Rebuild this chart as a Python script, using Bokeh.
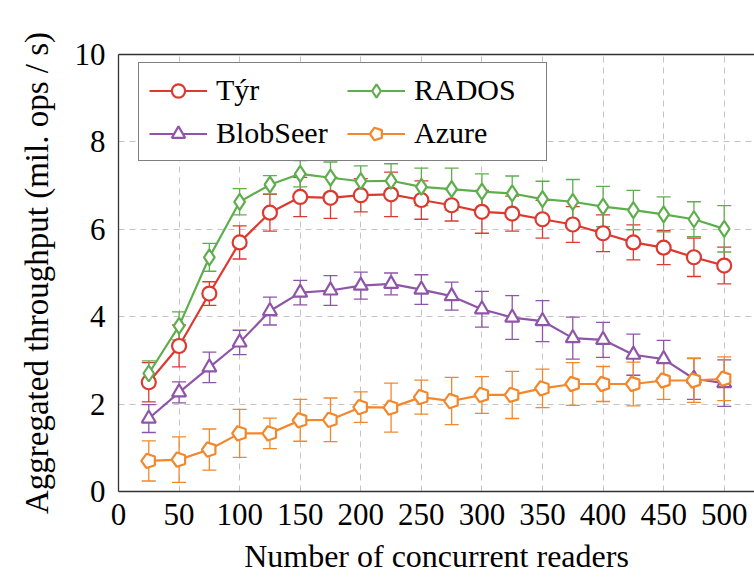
import numpy as np
from bokeh.plotting import figure
from bokeh.models import (ColumnDataSource, Whisker, TeeHead, Legend, LegendItem,
                          LinearAxis, Range1d, FixedTicker, Title)
from bokeh.embed import file_html
from bokeh.resources import INLINE

# ---- data ----
readers = [25, 50, 75, 100, 125, 150, 175, 200, 225, 250,
           275, 300, 325, 350, 375, 400, 425, 450, 475, 500]

tyr = [2.50, 3.33, 4.53, 5.70, 6.38, 6.74, 6.72, 6.78, 6.80, 6.67,
       6.55, 6.40, 6.36, 6.23, 6.11, 5.91, 5.70, 5.58, 5.36, 5.17]
tyr_err = [0.45, 0.48, 0.27, 0.38, 0.42, 0.45, 0.47, 0.38, 0.51, 0.44,
           0.36, 0.49, 0.40, 0.43, 0.41, 0.42, 0.40, 0.39, 0.44, 0.42]

rados = [2.70, 3.79, 5.36, 6.63, 7.02, 7.27, 7.18, 7.10, 7.11, 6.97,
         6.92, 6.86, 6.82, 6.69, 6.63, 6.52, 6.44, 6.34, 6.23, 6.01]
rados_err = [0.29, 0.32, 0.32, 0.30, 0.21, 0.30, 0.36, 0.35, 0.39, 0.43,
             0.48, 0.41, 0.40, 0.41, 0.51, 0.46, 0.45, 0.40, 0.40, 0.53]

blobseer = [1.67, 2.27, 2.84, 3.41, 4.13, 4.55, 4.60, 4.71, 4.75, 4.62,
            4.47, 4.17, 3.98, 3.90, 3.51, 3.47, 3.13, 3.03, 2.58, 2.48]
blobseer_err = [0.32, 0.24, 0.35, 0.28, 0.32, 0.28, 0.34, 0.31, 0.25, 0.34,
                0.32, 0.41, 0.50, 0.47, 0.48, 0.40, 0.47, 0.43, 0.47, 0.53]

azure = [0.70, 0.73, 0.96, 1.33, 1.33, 1.63, 1.64, 1.93, 1.92, 2.16,
         2.07, 2.21, 2.21, 2.36, 2.46, 2.46, 2.46, 2.54, 2.54, 2.58]
azure_err = [0.46, 0.52, 0.47, 0.55, 0.35, 0.48, 0.50, 0.35, 0.56, 0.39,
             0.54, 0.42, 0.54, 0.44, 0.49, 0.40, 0.50, 0.43, 0.50, 0.50]

x_ticks = [0, 50, 100, 150, 200, 250, 300, 350, 400, 450, 500]
y_ticks = [0, 2, 4, 6, 8, 10]

NBSP = "\u00a0"
x_title = NBSP.join(["Number", "of", "concurrent", "readers"])
y_title = NBSP.join(["Aggregated", "throughput", "(mil.", "ops", "/", "s)"])

series = [
    ("Týr", tyr, tyr_err, "#dc3a30", "circle"),
    ("RADOS", rados, rados_err, "#5fae4e", "diamond"),
    ("BlobSeer", blobseer, blobseer_err, "#8e55a8", "triangle"),
    ("Azure", azure, azure_err, "#f3872b", "pentagon"),
]

FONT = "'Liberation Serif', 'DejaVu Serif', serif"

p = figure(width=754, height=581, output_backend="svg", toolbar_location=None,
           x_range=Range1d(0, 525), y_range=Range1d(0, 10),
           min_border_left=117, min_border_right=0, min_border_top=54,
           min_border_bottom=87, background_fill_color="white")
p.outline_line_color = None

p.xaxis.ticker = FixedTicker(ticks=x_ticks)
p.yaxis.ticker = FixedTicker(ticks=y_ticks)
for ax in (p.xaxis[0], p.yaxis[0]):
    ax.major_tick_in = 0
    ax.major_tick_out = 0
    ax.minor_tick_line_color = None
    ax.axis_line_color = "#333333"
    ax.axis_line_width = 1.3
    ax.major_label_text_font = FONT
    ax.major_label_text_font_size = "31px"
    ax.major_label_text_color = "black"

p.xaxis.major_label_standoff = 12
p.yaxis.major_label_standoff = 13

top_axis = LinearAxis(ticker=FixedTicker(ticks=[]),
                      major_tick_line_color=None, minor_tick_line_color=None,
                      axis_line_color="#333333", axis_line_width=1.3)
p.add_layout(top_axis, "above")

# axis titles
p.add_layout(Title(text=x_title, align="center", text_font=FONT, text_font_size="32px",
                   text_font_style="normal", text_color="black", standoff=16, offset=0), "below")
p.add_layout(Title(text=y_title, align="center", text_font=FONT, text_font_size="33px",
                   text_font_style="normal", text_color="black", standoff=33, offset=0), "left")

p.grid.grid_line_color = "#c4c4c4"
p.grid.grid_line_dash = "6 5"
p.grid.grid_line_width = 1
p.xgrid.ticker = FixedTicker(ticks=x_ticks)
p.ygrid.ticker = FixedTicker(ticks=y_ticks)

items = {}
for name, vals, errs, color, marker in series:
    v = np.array(vals)
    e = np.array(errs)
    src = ColumnDataSource(dict(x=readers, y=vals, upper=list(v + e), lower=list(v - e)))
    w = Whisker(base="x", upper="upper", lower="lower", source=src, dimension="height",
                line_color=color, line_width=1.3,
                upper_head=TeeHead(size=14, line_color=color, line_width=1.3),
                lower_head=TeeHead(size=14, line_color=color, line_width=1.3))
    p.add_layout(w)
    ln = p.line("x", "y", source=src, line_color=color, line_width=2.2)
    if marker == "pentagon":
        try:
            mk = p.ngon(x="x", y="y", source=src, radius=7.5, radius_units="screen", n=5,
                        angle=np.pi / 2, fill_color="white", line_color=color, line_width=2.2)
        except Exception:
            mk = p.scatter("x", "y", source=src, marker="hex", size=14, fill_color="white",
                           line_color=color, line_width=2.2)
    else:
        size = 16 if marker == "diamond" else 14
        mk = p.scatter("x", "y", source=src, marker=marker, size=size, fill_color="white",
                       line_color=color, line_width=2.2)
    items[name] = [ln, mk]

# column-major fill: order so that rows read Týr/RADOS, BlobSeer/Azure
legend = Legend(items=[LegendItem(label=n, renderers=items[n]) for n in ["Týr", "BlobSeer", "RADOS", "Azure"]],
                location=(20, 330), ncols=2, orientation="vertical",
                label_text_font=FONT, label_text_font_size="30px", label_text_color="black",
                glyph_width=58, glyph_height=33, label_height=33, label_width=122,
                label_standoff=9, padding=10, spacing=9, margin=0,
                border_line_color="black", border_line_width=1.2,
                background_fill_color="white", background_fill_alpha=1.0)
p.add_layout(legend, "center")

open("out.html", "w").write(file_html(p, INLINE))
